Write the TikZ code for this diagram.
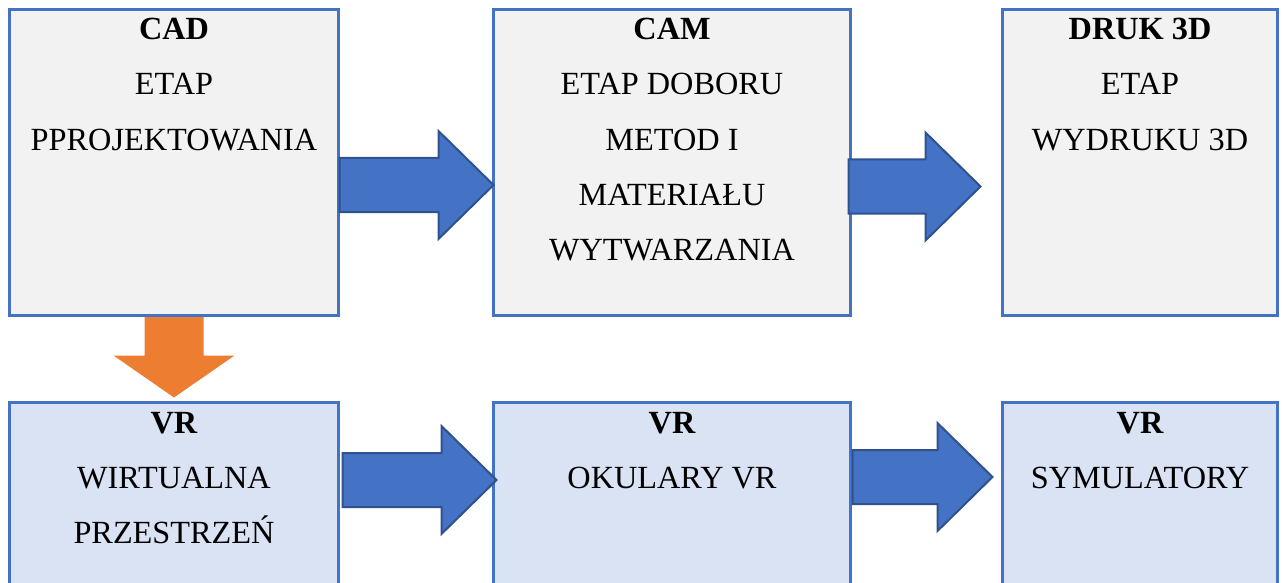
\documentclass[tikz,border=0pt]{standalone}
\usepackage{fontspec}
\setmainfont{Liberation Serif}
\usetikzlibrary{calc}

\definecolor{boxline}{HTML}{4472C4}
\definecolor{greyfill}{HTML}{F2F2F2}
\definecolor{bluefill}{HTML}{DAE3F3}
\definecolor{arrowfill}{HTML}{4472C4}
\definecolor{arrowline}{HTML}{2F528F}
\definecolor{orangefill}{HTML}{ED7D31}

% Block arrow pointing right: #2 = start of shaft, #3 = tip
\newcommand\rightblock[3][]{%
  \path[#1] let \p1=(#2), \p2=(#3) in
    (\x1,\y1+27pt) -- (\x2-55pt,\y1+27pt) -- (\x2-55pt,\y1+54pt) -- (\x2,\y1)
    -- (\x2-55pt,\y1-54pt) -- (\x2-55pt,\y1-27pt) -- (\x1,\y1-27pt) -- cycle;}

% Block arrow pointing down: #2 = start of shaft, #3 = tip
\newcommand\downblock[3][]{%
  \path[#1] let \p1=(#2), \p2=(#3) in
    (\x1-29.5pt,\y1) -- (\x1-29.5pt,\y2+42pt) -- (\x1-60.5pt,\y2+42pt) -- (\x1,\y2)
    -- (\x1+60.5pt,\y2+42pt) -- (\x1+29.5pt,\y2+42pt) -- (\x1+29.5pt,\y1) -- cycle;}

\tikzset{
  stagebox/.style={draw=boxline, line width=2.4pt, fill=greyfill, inner sep=0pt,
    outer sep=0pt, anchor=north west, minimum height=306pt},
  vrbox/.style={stagebox, fill=bluefill},
  txt/.style={anchor=base, inner sep=0pt, font=\fontsize{32.3}{38}\selectfont},
  ttl/.style={txt, font=\fontsize{32.3}{38}\selectfont\bfseries},
  bluearrow/.style={fill=arrowfill, draw=arrowline, line width=2pt, line join=miter},
  orangearrow/.style={fill=orangefill},
}

\begin{document}
\begin{tikzpicture}[x=1pt, y=-1pt]
  \useasboundingbox (0,0) rectangle (1283,583);
  \clip (0,0) rectangle (1283,583);

  % stage boxes
  \node[stagebox, minimum width=329pt] (cad)  at (9.5,9.5) {};
  \node[stagebox, minimum width=357pt] (cam)  at (493.5,9.5) {};
  \node[stagebox, minimum width=275pt] (druk) at (1002.5,9.5) {};
  \node[vrbox, minimum width=329pt] (vra) at (9.5,402.5) {};
  \node[vrbox, minimum width=357pt] (vrb) at (493.5,402.5) {};
  \node[vrbox, minimum width=275pt] (vrc) at (1002.5,402.5) {};

  % box texts: bold title, then lines 55pt apart
  \foreach \bx/\title/\lines in {
      cad/CAD/{ETAP,PPROJEKTOWANIA},
      cam/CAM/{ETAP DOBORU,METOD I,MATERIAŁU,WYTWARZANIA},
      druk/DRUK 3D/{ETAP,WYDRUKU 3D},
      vra/VR/{WIRTUALNA,PRZESTRZEŃ},
      vrb/VR/{OKULARY VR},
      vrc/VR/{SYMULATORY}} {
    \node[ttl] (\bx-t) at ([yshift=-30.5pt]\bx.north) {\title};
    \foreach \ln [count=\i] in \lines
      \node[txt] (\bx-\i) at ([yshift=-30.5pt-55pt*\i]\bx.north) {\ln};
  }

  % arrow rows
  \coordinate (rowa) at (0,185);
  \coordinate (rowb) at (0,186.5);
  \coordinate (rowc) at (0,480);
  \coordinate (rowd) at (0,477);

  \coordinate (a1s) at ($(cad.east |- rowa)+(1,0)$);
  \coordinate (a1e) at (cam.west |- rowa);
  \coordinate (a2s) at ($(cam.east |- rowb)+(-2,0)$);
  \coordinate (a2e) at ($(druk.west |- rowb)+(-22,0)$);
  \coordinate (a3s) at ($(vra.east |- rowc)+(4,0)$);
  \coordinate (a3e) at ($(vrb.west |- rowc)+(3,0)$);
  \coordinate (a4s) at ($(vrb.east |- rowd)+(2,0)$);
  \coordinate (a4e) at ($(vrc.west |- rowd)+(-10,0)$);

  \rightblock[bluearrow]{a1s}{a1e}
  \rightblock[bluearrow]{a2s}{a2e}
  \rightblock[bluearrow]{a3s}{a3e}
  \rightblock[bluearrow]{a4s}{a4e}

  % CAD -> VR
  \coordinate (o1s) at ($(cad.south)+(0,1.5)$);
  \coordinate (o1e) at ($(vra.north)+(0,-5)$);
  \downblock[orangearrow]{o1s}{o1e}
\end{tikzpicture}
\end{document}
